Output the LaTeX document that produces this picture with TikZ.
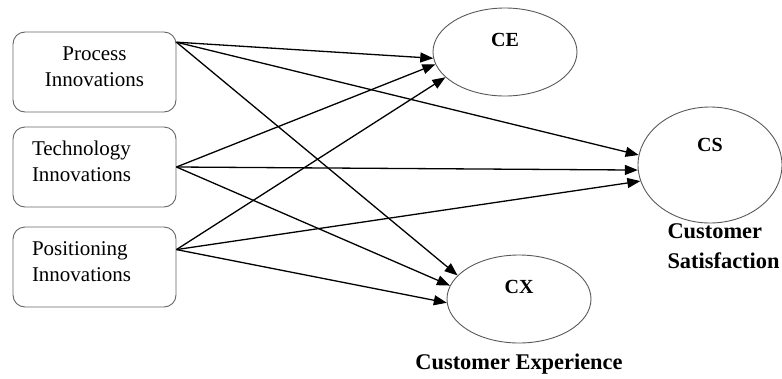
\documentclass[tikz,border=0pt]{standalone}
\usepackage{fontspec}
\setmainfont{Liberation Serif}
\usetikzlibrary{arrows.meta, positioning, shapes.geometric, calc}

\begin{document}
\begin{tikzpicture}[
  x=1pt, y=-1pt,
  driver/.style={rectangle, rounded corners=12pt, draw=black!60, line width=0.9pt, minimum width=163pt, minimum height=80pt, inner xsep=19pt, text width=125pt, text depth=37pt, font=\fontsize{21}{26}\selectfont},
  construct/.style={ellipse, draw=black!65, line width=0.9pt, inner sep=0pt},
  tag/.style={font=\fontsize{20}{24}\selectfont\bfseries},
  caption/.style={font=\fontsize{22.4}{30}\selectfont\bfseries, align=left},
  path/.style={-{Triangle[length=13pt, width=10pt]}, line width=1.3pt},
]
\useasboundingbox (0,0) rectangle (782,378);

% Innovation drivers
\node[driver, align=center] (proc) at (94.5,72) {Process\\Innovations};
\node[driver, align=left] (tech) at (94.5,167) {Technology\\Innovations};
\node[driver, align=left] (posi) at (94.5,267) {Positioning\\Innovations};

% Outcome constructs
\node[construct, minimum width=144pt, minimum height=88pt] (ce) at (505,52) {};
\node[construct, minimum width=144pt, minimum height=116pt] (cs) at (710,165) {};
\node[construct, minimum width=144pt, minimum height=88pt] (cx) at (519,299) {};

% Labels constructs
\node[tag] at ($(ce)+(0,-12)$) {CE};
\node[tag] at ($(cs)+(0,-20)$) {CS};
\node[tag] at ($(cx)+(0,-12)$) {CX};
\node[caption, anchor=north west] at (664,220) {Customer\\Satisfaction};
\node[caption, below=7pt of cx] {Customer Experience};

% Paths from process
\draw[path] (proc.20) -- (ce.185);
\draw[path] (proc.20) -- (cs.172);
\draw[path] (proc.20) -- (cx.159);

% Paths from technology
\draw[path] (tech.east) -- (ce.190);
\draw[path] (tech.east) -- (cs.184);
\draw[path] (tech.east) -- (cx.169);

% Paths from positioning
\draw[path] (posi.12) -- (ce.203);
\draw[path] (posi.12) -- (cs.193);
\draw[path] (posi.12) -- (cx.183);

\end{tikzpicture}
\end{document}
